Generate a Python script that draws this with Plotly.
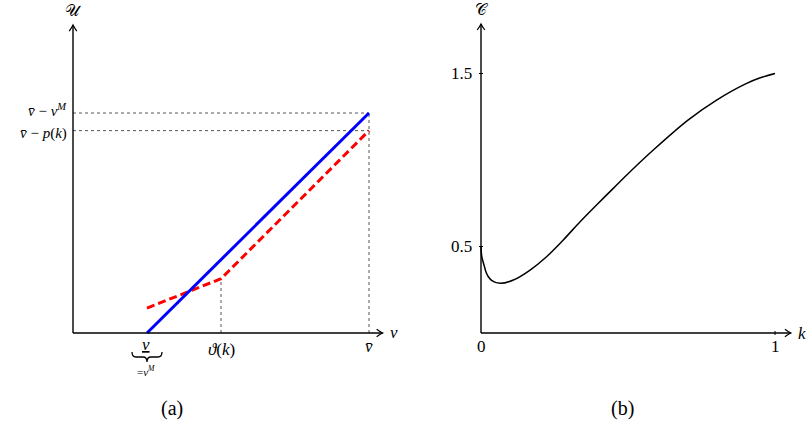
import plotly.graph_objects as go

W, H = 812, 426

# ---------------- data: panel (a) ----------------
v_low, v_theta, v_bar = 0.25, 0.5, 1.0
blue_v = [0.25, 1.0]
blue_u = [0.0, 0.75]
red_v = [0.25, 0.5, 1.0]
red_u = [0.085, 0.185, 0.69]
a_ytick_vals = [0.75, 0.69]
a_ytick_text = ["<i>v̄</i> − <i>v</i><sup><i>M</i></sup>", "<i>v̄</i> − <i>p</i>(<i>k</i>)"]
a_xtick_vals = [0.25, 0.5, 1.0]
a_xtick_text = ["<i><u>v</u></i>", "<i>ϑ</i>(<i>k</i>)", "<i>v̄</i>"]

# ---------------- data: panel (b) ----------------
k_vals = [0, 0.0024, 0.0102, 0.017, 0.025, 0.037, 0.065, 0.11, 0.167, 0.223, 0.28,
          0.337, 0.393, 0.45, 0.507, 0.586, 0.704, 0.8, 0.9, 0.95, 1.0]
c_vals = [0.5, 0.445, 0.393, 0.353, 0.325, 0.303, 0.287, 0.306, 0.364, 0.441, 0.538,
          0.643, 0.740, 0.836, 0.932, 1.058, 1.231, 1.345, 1.44, 1.475, 1.5]
b_ytick_vals = [0.5, 1.5]
b_ytick_text = ["0.5", "1.5"]
b_xtick_vals = [0, 1]
b_xtick_text = ["0", "1"]

# ---------------- geometry ----------------
A_X0, A_SX, A_Y0, A_SY = 73, 296, 333, 293.3
A_XR, A_YR = [-0.2, 1.2], [-0.3, 1.1]
A_XEND, A_YEND = 1.046, 1.05
B_X0, B_SX, B_Y0, B_SY = 481, 294, 333, 173
B_XR, B_YR = [-0.15, 1.1], [-0.5, 1.85]
B_XEND, B_YEND = 1.054, 1.786

FONT = "Liberation Serif"
FS = 17


def xdom(x0, sx, r):
    return [(x0 + r[0] * sx) / W, (x0 + r[1] * sx) / W]


def ydom(y0, sy, r):
    return [(H - (y0 - r[0] * sy)) / H, (H - (y0 - r[1] * sy)) / H]


fig = go.Figure()
shapes = []
ann = []


def seg(xs, ys, xa, ya, color="black", width=1.3, dash="solid"):
    fig.add_trace(go.Scatter(x=xs, y=ys, xaxis=xa, yaxis=ya, mode="lines",
                             line=dict(color=color, width=width, dash=dash),
                             hoverinfo="skip", showlegend=False))


def arrow_h(xe, xr, yr, sx, sy):
    b, h = 6 / sx, 3.8 / sy
    shapes.append(dict(type="path", xref=xr, yref=yr,
                       path=f"M {xe-b},{h} Q {xe-0.3*b},{0.2*h} {xe},0 Q {xe-0.3*b},{-0.2*h} {xe-b},{-h}",
                       line=dict(color="black", width=1.2)))


def arrow_v(ye, xr, yr, sx, sy):
    b, h = 6 / sy, 3.8 / sx
    shapes.append(dict(type="path", xref=xr, yref=yr,
                       path=f"M {-h},{ye-b} Q {-0.2*h},{ye-0.3*b} 0,{ye} Q {0.2*h},{ye-0.3*b} {h},{ye-b}",
                       line=dict(color="black", width=1.2)))


def brace(xc, top_px, sx, sy, xr, yr, hw=15, ht=10):
    # under-brace drawn in pixel offsets below the axis
    pts = [(-hw, 0), (-hw, ht / 2), (-hw + 4, ht / 2), (-4, ht / 2), (0, ht / 2), (0, ht),
           (0, ht / 2), (4, ht / 2), (hw - 4, ht / 2), (hw, ht / 2), (hw, 0)]
    c = [(xc + dx / sx, -(top_px + dy) / sy) for dx, dy in pts]
    p = (f"M {c[0][0]},{c[0][1]} Q {c[1][0]},{c[1][1]} {c[2][0]},{c[2][1]} "
         f"L {c[3][0]},{c[3][1]} Q {c[4][0]},{c[4][1]} {c[5][0]},{c[5][1]} "
         f"Q {c[6][0]},{c[6][1]} {c[7][0]},{c[7][1]} L {c[8][0]},{c[8][1]} "
         f"Q {c[9][0]},{c[9][1]} {c[10][0]},{c[10][1]}")
    shapes.append(dict(type="path", xref=xr, yref=yr, path=p, line=dict(color="black", width=1.3)))


def label(x, y, text, xr, yr, size=FS, xanchor="center", yanchor="middle", xs=0, ys=0, family=FONT):
    ann.append(dict(x=x, y=y, xref=xr, yref=yr, text=text, showarrow=False,
                    xanchor=xanchor, yanchor=yanchor, xshift=xs, yshift=ys,
                    font=dict(family=family, size=size, color="black")))


# ---------- panel (a) ----------
dot = dict(color="#555", width=1, dash="dot")
for u in a_ytick_vals:
    seg([0, v_bar], [u, u], "x", "y", **dot)
seg([v_theta, v_theta], [0, red_u[1]], "x", "y", **dot)
seg([v_bar, v_bar], [0, blue_u[-1]], "x", "y", **dot)

seg(red_v, red_u, "x", "y", color="#ff0000", width=3, dash="8px,4px")
seg(blue_v, blue_u, "x", "y", color="#0000ff", width=3)

seg([0, A_XEND], [0, 0], "x", "y", width=1.4)
seg([0, 0], [0, A_YEND], "x", "y", width=1.4)
arrow_h(A_XEND, "x", "y", A_SX, A_SY)
arrow_v(A_YEND, "x", "y", A_SX, A_SY)

label(0, a_ytick_vals[0], a_ytick_text[0], "x", "y", size=15, xanchor="right", yanchor="bottom", xs=-4, ys=-8)
label(0, a_ytick_vals[1], a_ytick_text[1], "x", "y", size=15, xanchor="right", yanchor="top", xs=-4, ys=8)
label(a_xtick_vals[0], 0, a_xtick_text[0], "x", "y", xs=-1, ys=-12)
brace(v_low, 19, A_SX, A_SY, "x", "y")
label(a_xtick_vals[0], 0, "=<i>v</i><sup><i>M</i></sup>", "x", "y", size=11, xs=-1, ys=-38)
label(a_xtick_vals[1], 0, a_xtick_text[1], "x", "y", ys=-17)
label(a_xtick_vals[2], 0, a_xtick_text[2], "x", "y", ys=-14)
label(A_XEND, 0, "<i>v</i>", "x", "y", xanchor="left", xs=5, ys=0)
label(0, A_YEND, "𝒰", "x", "y", yanchor="bottom", ys=3, size=16, family="DejaVu Serif")
label(0.334, -0.256, "(a)", "x", "y", size=20)

# ---------- panel (b) ----------
fig.add_trace(go.Scatter(x=k_vals, y=c_vals, xaxis="x2", yaxis="y2", mode="lines",
                         line=dict(color="black", width=1.5, shape="spline", smoothing=0.8),
                         hoverinfo="skip", showlegend=False))
seg([0, B_XEND], [0, 0], "x2", "y2", width=1.4)
seg([0, 0], [0, B_YEND], "x2", "y2", width=1.4)
arrow_h(B_XEND, "x2", "y2", B_SX, B_SY)
arrow_v(B_YEND, "x2", "y2", B_SX, B_SY)
for val in b_ytick_vals:
    seg([-2 / B_SX, 2 / B_SX], [val, val], "x2", "y2", width=1)
for val in b_xtick_vals[1:]:
    seg([val, val], [-2 / B_SY, 2 / B_SY], "x2", "y2", width=1)
for val, txt in zip(b_ytick_vals, b_ytick_text):
    label(0, val, txt, "x2", "y2", xanchor="right", xs=-7)
for val, txt in zip(b_xtick_vals, b_xtick_text):
    label(val, 0, txt, "x2", "y2", ys=-13)
label(B_XEND, 0, "<i>k</i>", "x2", "y2", xanchor="left", xs=5, ys=0)
label(0, B_YEND, "𝒞", "x2", "y2", yanchor="bottom", ys=3, size=16, family="DejaVu Serif")
label(0.48, -0.434, "(b)", "x2", "y2", size=20)

ax = dict(visible=False, showgrid=False, zeroline=False, fixedrange=True)
fig.update_layout(
    width=W, height=H, autosize=False,
    margin=dict(l=0, r=0, t=0, b=0),
    paper_bgcolor="white", plot_bgcolor="white",
    showlegend=False,
    xaxis=dict(ax, domain=xdom(A_X0, A_SX, A_XR), range=A_XR),
    yaxis=dict(ax, domain=ydom(A_Y0, A_SY, A_YR), range=A_YR),
    xaxis2=dict(ax, domain=xdom(B_X0, B_SX, B_XR), range=B_XR),
    yaxis2=dict(ax, domain=ydom(B_Y0, B_SY, B_YR), range=B_YR),
    shapes=shapes, annotations=ann,
)
fig.write_html("out.html")
